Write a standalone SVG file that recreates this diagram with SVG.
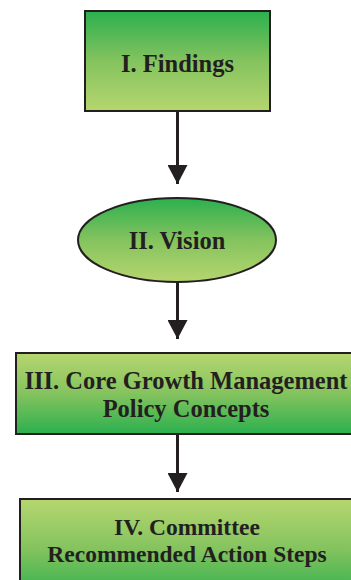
<svg xmlns="http://www.w3.org/2000/svg" width="351" height="580" viewBox="0 0 351 580">
<defs>
<linearGradient id="gDown" x1="0" y1="0" x2="0" y2="1">
<stop offset="0" stop-color="#2bb04e"/>
<stop offset="0.5" stop-color="#84c35e"/>
<stop offset="1" stop-color="#b6d66f"/>
</linearGradient>
<linearGradient id="gUp" x1="0" y1="0" x2="0" y2="1">
<stop offset="0" stop-color="#b6d66f"/>
<stop offset="0.5" stop-color="#84c35e"/>
<stop offset="1" stop-color="#2bb04e"/>
</linearGradient>
<marker id="ah" markerUnits="userSpaceOnUse" markerWidth="22" markerHeight="20" refX="19" refY="10" orient="auto">
<path d="M0,0 L19,10 L0,20 Z" fill="#231f20"/>
</marker>
</defs>
<style>
.shape{stroke:#231f20;stroke-width:2}
.lbl{font-family:"Liberation Serif","Times New Roman",serif;font-weight:bold;font-size:24.5px;fill:#231f20;text-anchor:middle}
.sm{font-size:23.5px}
.conn{stroke:#231f20;stroke-width:3;fill:none}
</style>
<g id="connectors">
<line class="conn" x1="177.5" y1="111" x2="177.5" y2="184" marker-end="url(#ah)"/>
<line class="conn" x1="177.5" y1="282" x2="177.5" y2="339" marker-end="url(#ah)"/>
<line class="conn" x1="177.5" y1="434" x2="177.5" y2="492" marker-end="url(#ah)"/>
</g>
<g id="n1">
<rect class="shape" x="85" y="11" width="185" height="100" fill="url(#gDown)"/>
<text class="lbl" x="177.5" y="72">I. Findings</text>
</g>
<g id="n2">
<ellipse class="shape" cx="177" cy="240" rx="99" ry="42" fill="url(#gDown)"/>
<text class="lbl" x="177" y="249">II. Vision</text>
</g>
<g id="n3">
<rect class="shape" x="16" y="353" width="350" height="81" fill="url(#gUp)"/>
<text class="lbl" x="186" y="389">III. Core Growth Management</text>
<text class="lbl" x="186" y="417">Policy Concepts</text>
</g>
<g id="n4">
<rect class="shape" x="20" y="499" width="350" height="100" fill="url(#gUp)"/>
<text class="lbl sm" x="187" y="535">IV. Committee</text>
<text class="lbl sm" x="187" y="562">Recommended Action Steps</text>
</g>
</svg>
